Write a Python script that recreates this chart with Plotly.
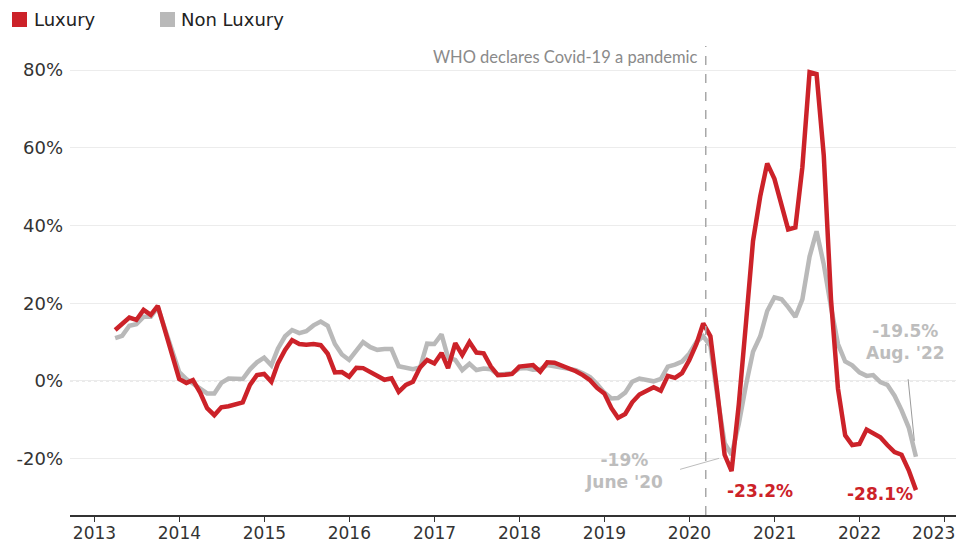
import pandas as pd
import plotly.graph_objects as go

# ---- data (year-over-year % change, monthly, Mar 2013 - Aug 2022) ----
dates = pd.date_range("2013-03-31", periods=114, freq="ME")

luxury = [
    13.1, 14.5, 16.3, 15.7, 18.3, 17.0, 19.3, 13.0, 7.0, 0.5,
    -0.5, 0.2, -3.0, -7.0, -8.8, -6.8, -6.5, -6.1, -5.5, -1.0,
    1.5, 1.8, -0.2, 4.5, 8.0, 10.5, 9.5, 9.3, 9.5, 9.2,
    7.0, 2.2, 2.3, 1.1, 3.4, 3.3, 2.2, 1.2, 0.3, 0.7,
    -2.8, -1.0, -0.2, 3.5, 5.4, 4.5, 7.2, 3.3, 9.7, 6.7,
    10.0, 7.3, 7.1, 3.7, 1.5, 1.6, 1.8, 3.7, 4.0, 4.1,
    2.4, 4.8, 4.7, 4.0, 3.2, 2.5, 1.5, 0.2, -1.8, -3.2,
    -7.0, -9.5, -8.5, -5.5, -3.5, -2.5, -1.6, -2.5, 1.3, 0.8,
    2.0, 5.3, 9.5, 14.8, 11.5, -3.0, -19.0, -23.2, -6.0, 15.0,
    36.0, 47.5, 56.0, 52.0, 45.0, 39.0, 39.5, 55.0, 79.5, 79.0,
    58.0, 21.0, -2.0, -14.0, -16.5, -16.2, -12.5, -13.5, -14.5, -16.5,
    -18.3, -19.0, -23.0, -28.1,
]

non_luxury = [
    11.0, 11.6, 14.2, 14.6, 16.5, 16.5, 19.0, 13.5, 8.0, 2.3,
    0.5, -0.6, -2.0, -3.2, -3.2, -0.5, 0.6, 0.5, 0.5, 3.0,
    4.8, 6.0, 4.0, 8.3, 11.5, 13.1, 12.3, 12.8, 14.3, 15.3,
    14.2, 9.5, 6.8, 5.4, 8.0, 10.0, 8.7, 8.0, 8.2, 8.2,
    3.8, 3.3, 3.0, 3.5, 9.6, 9.5, 12.0, 6.0, 5.4, 2.8,
    4.4, 2.8, 3.2, 3.0, 1.6, 1.8, 2.0, 3.2, 3.3, 2.9,
    3.0, 4.1, 3.8, 3.3, 3.0, 2.8, 2.0, 1.0, -0.8, -3.0,
    -4.5, -4.4, -3.0, -0.2, 0.6, 0.3, -0.1, 0.5, 3.7, 4.2,
    5.0, 7.0, 10.0, 11.5, 9.0, -4.0, -16.0, -19.0, -11.0, -1.0,
    7.5, 11.5, 18.0, 21.5, 21.0, 19.0, 16.5, 21.0, 32.0, 38.5,
    30.0, 19.0, 9.5, 5.0, 4.0, 2.2, 1.3, 1.5, -0.3, -1.0,
    -3.8, -7.5, -12.0, -19.5,
]

series_names = ["Luxury", "Non Luxury"]
year_ticks = [f"{y}-01-01" for y in range(2013, 2024)]
year_labels = [str(y) for y in range(2013, 2024)]
y_ticks = [-20, 0, 20, 40, 60, 80]
y_tick_labels = ["-20%", "0%", "20%", "40%", "60%", "80%"]
pandemic_date = "2020-03-11"

RED = "#cc2229"
GRAY = "#b9b9b9"
LABEL_GRAY = "#bdbdbd"
FONT = "DejaVu Sans"

W, H = 959, 542
ML, MR, MT, MB = 70, 3, 46, 27


def px_x(p):
    return (p - ML) / (W - ML - MR)


def px_y(p):
    return 1 - (p - MT) / (H - MT - MB)


fig = go.Figure()
fig.add_trace(go.Scatter(x=dates, y=non_luxury, mode="lines", name=series_names[1],
                         line=dict(color=GRAY, width=4.5), showlegend=False))
fig.add_trace(go.Scatter(x=dates, y=luxury, mode="lines", name=series_names[0],
                         line=dict(color=RED, width=4.5), showlegend=False))

# zero line (dotted)
fig.add_shape(type="line", xref="paper", x0=0, x1=1, yref="y", y0=0, y1=0,
              line=dict(color="#cfcfcf", width=1, dash="dot"), layer="below")

# pandemic vertical line
fig.add_shape(type="line", xref="x", x0=pandemic_date, x1=pandemic_date,
              yref="paper", y0=0, y1=1, line=dict(color="#a8a8a8", width=1.5, dash="dash"))
fig.add_annotation(x=pandemic_date, y=px_y(57), yref="paper", xanchor="right", yanchor="middle",
                   xshift=-6, text="WHO declares Covid-19 a pandemic", showarrow=False,
                   font=dict(family="Lato", size=16.5, color="#8a8a8a"))

# legend (top-left squares + text)
fig.add_shape(type="rect", xref="paper", yref="paper", x0=px_x(12), x1=px_x(27),
              y0=px_y(27), y1=px_y(12), fillcolor=RED, line=dict(width=0))
fig.add_shape(type="rect", xref="paper", yref="paper", x0=px_x(160), x1=px_x(175),
              y0=px_y(27), y1=px_y(12), fillcolor=GRAY, line=dict(width=0))
fig.add_annotation(xref="paper", yref="paper", x=px_x(32), y=px_y(19.5), xanchor="left",
                   yanchor="middle", text=series_names[0], showarrow=False,
                   font=dict(family=FONT, size=18, color="#222"))
fig.add_annotation(xref="paper", yref="paper", x=px_x(179), y=px_y(19.5), xanchor="left",
                   yanchor="middle", text=series_names[1], showarrow=False,
                   font=dict(family=FONT, size=18, color="#222"))

# last year label, shifted left so it stays inside the frame (as in the original)
fig.add_annotation(x=year_ticks[-1], xref="x", y=px_y(533), yref="paper", xanchor="right",
                   yanchor="middle", xshift=12, text=year_labels[-1], showarrow=False,
                   font=dict(family=FONT, size=17, color="#333"))

# value callouts
i_jun20 = 87
i_last = len(dates) - 1
bold_font = dict(family=FONT, size=17)

fig.add_annotation(x=dates[i_jun20], y=non_luxury[i_jun20], text="<b>-19%<br>June '20</b>",
                   showarrow=False, xanchor="center", yanchor="middle", xshift=-108, yshift=-16,
                   font=dict(**bold_font, color=LABEL_GRAY), align="center")
fig.add_annotation(x=dates[i_jun20], y=non_luxury[i_jun20], text="", showarrow=True,
                   ax=-53, ay=15, arrowhead=0, arrowwidth=1, arrowcolor="#bdbdbd", standoff=13)
fig.add_annotation(x=dates[i_jun20], y=luxury[i_jun20], text="<b>-23.2%</b>",
                   showarrow=False, xanchor="center", yanchor="middle", xshift=28, yshift=-20,
                   font=dict(**bold_font, color=RED))
fig.add_annotation(x=dates[i_last], y=luxury[i_last], text="<b>-28.1%</b>",
                   showarrow=False, xanchor="center", yanchor="middle", xshift=-36, yshift=-4,
                   font=dict(**bold_font, color=RED))
fig.add_annotation(x=dates[i_last], y=non_luxury[i_last], text="<b>-19.5%<br>Aug. '22</b>",
                   showarrow=False, xanchor="center", yanchor="middle", xshift=-10, yshift=115,
                   font=dict(**bold_font, color=LABEL_GRAY), align="center")
fig.add_annotation(x=dates[i_last], y=non_luxury[i_last], text="", showarrow=True,
                   ax=-8, ay=-79, arrowhead=0, arrowwidth=1, arrowcolor="#9a9a9a", standoff=16)

fig.update_layout(
    width=W, height=H,
    margin=dict(l=ML, r=MR, t=MT, b=MB, autoexpand=False),
    paper_bgcolor="white", plot_bgcolor="white",
    showlegend=False,
    font=dict(family=FONT, color="#333"),
    xaxis=dict(
        range=["2012-09-18", "2023-02-19"],
        tickvals=year_ticks, ticktext=year_labels[:-1] + [""],
        showgrid=False, zeroline=False, automargin=False,
        showline=True, linecolor="#333", linewidth=1.5,
        ticks="outside", ticklen=5, tickcolor="#333", tickwidth=1,
        tickfont=dict(family=FONT, size=17, color="#333"),
        ticklabelstandoff=-3,
    ),
    yaxis=dict(
        range=[-34.5, 86.2],
        tickvals=y_ticks, ticktext=y_tick_labels,
        showgrid=True, gridcolor="#ececec", gridwidth=1,
        zeroline=False, showline=False, ticks="", automargin=False,
        tickfont=dict(family=FONT, size=18, color="#333"),
        ticklabelstandoff=6,
    ),
)

fig.write_html("out.html", config={"displayModeBar": False},
               post_script="document.body.style.margin='0';document.body.style.overflow='hidden';")
